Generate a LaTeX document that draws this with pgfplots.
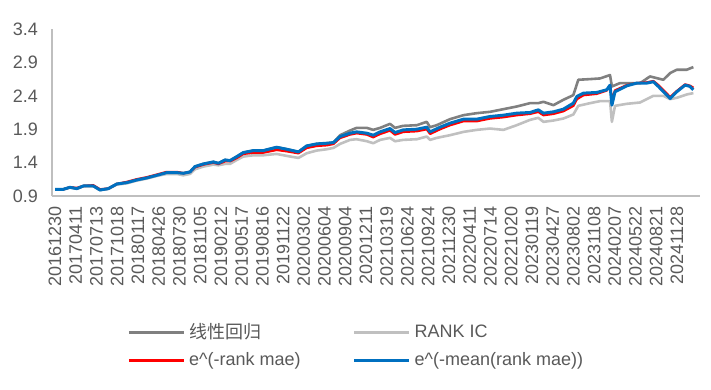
\documentclass[border=0pt]{standalone}
\usepackage{fontspec}
\setmainfont{Liberation Sans}
\newfontfamily\cjk{Noto Sans CJK SC}
\usepackage{pgfplots}
\pgfplotsset{compat=1.18}
\definecolor{txt}{HTML}{595959}
\definecolor{dgray}{HTML}{808080}
\definecolor{lgray}{HTML}{C0C0C0}
\definecolor{myred}{HTML}{FF0000}
\definecolor{myblue}{HTML}{0070C0}
\definecolor{axisgray}{HTML}{BFBFBF}
\begin{document}
\begin{tikzpicture}
\begin{axis}[
  at={(26pt,-98pt)}, anchor=south west,
  scale only axis, width=324pt, height=83.5pt,
  xmin=-0.145, xmax=31.11, ymin=0.9, ymax=3.4,
  axis x line*=bottom, axis y line*=left,
  axis line style={draw=axisgray, line width=0.6pt, -},
  major tick length=0pt,
  ytick={0.9,1.4,1.9,2.4,2.9,3.4},
  /pgf/number format/fixed,
  /pgf/number format/fixed zerofill,
  /pgf/number format/precision=1,
  /pgf/number format/assume math mode=true,
  ytick style={draw=none}, xtick style={draw=none},
  tick label style={font=\fontsize{9}{10}\selectfont, text=txt},
  yticklabel style={xshift=-3.5pt},
  xtick={0,...,30},
  xticklabels={20161230,20170411,20170713,20171018,20180117,20180426,20180730,20181105,20190212,20190517,20190816,20191122,20200302,20200604,20200904,20201211,20210319,20210624,20210924,20211230,20220411,20220714,20221020,20230119,20230427,20230802,20231108,20240207,20240522,20240821,20241128},
  xticklabel style={rotate=90, anchor=east, xshift=-1.5pt},
  legend columns=2,
  legend cell align=left,
  legend image code/.code={\draw[#1] (0pt,0pt) -- (27.5pt,0pt);},
  legend style={at={(axis description cs:0.116,-0.735)}, anchor=north west,
    draw=none, fill=none, inner sep=0pt, row sep=1.5pt,
    font=\fontsize{9}{10}\selectfont, text=txt,
    /tikz/every even column/.append style={column sep=24pt}},
  every axis plot/.append style={line join=round},
]
\addplot[dgray, line width=1.3pt] coordinates {
(0,1.00)(0.40,1.00)(0.72,1.03)(1.05,1.01)(1.37,1.05)(1.85,1.05)(2.17,0.99)(2.57,1.01)(2.98,1.08)(3.46,1.10)(3.94,1.14)(4.42,1.17)(4.91,1.21)(5.39,1.25)(5.87,1.25)(6.19,1.24)(6.51,1.26)(6.75,1.34)(7.15,1.38)(7.64,1.41)(7.88,1.39)(8.20,1.44)(8.44,1.43)(8.77,1.49)(9.08,1.55)(9.57,1.58)(10.05,1.58)(10.69,1.63)(11.18,1.60)(11.74,1.56)(12.14,1.65)(12.62,1.68)(13.11,1.69)(13.43,1.70)
(13.75,1.81)(14.23,1.88)(14.55,1.92)(15.04,1.92)(15.35,1.89)(15.68,1.92)(16.16,1.98)(16.40,1.92)(16.79,1.95)(17.45,1.96)(17.93,2.01)(18.09,1.93)(18.41,1.96)(19.05,2.05)(19.70,2.11)(20.34,2.14)(20.98,2.16)(21.63,2.20)(22.27,2.24)(22.91,2.29)(23.31,2.29)(23.56,2.31)(24.04,2.26)(24.52,2.34)(25.00,2.41)(25.24,2.64)(25.81,2.65)(26.29,2.66)(26.77,2.71)(26.86,2.54)(27.25,2.59)(27.73,2.59)(28.22,2.59)(28.70,2.69)(29.34,2.64)(29.67,2.74)(29.99,2.79)(30.47,2.79)(30.79,2.83)
};
\addlegendentry{{\cjk 线性回归}}
\addplot[lgray, line width=1.3pt] coordinates {
(0,1.00)(0.40,1.00)(0.72,1.03)(1.05,1.01)(1.37,1.05)(1.85,1.05)(2.17,0.99)(2.57,1.01)(2.98,1.07)(3.46,1.09)(3.94,1.13)(4.42,1.16)(4.91,1.20)(5.39,1.23)(5.87,1.23)(6.19,1.21)(6.51,1.23)(6.75,1.30)(7.15,1.34)(7.64,1.37)(7.88,1.36)(8.20,1.38)(8.44,1.38)(8.77,1.44)(9.08,1.49)(9.57,1.51)(10.05,1.51)(10.69,1.53)(11.18,1.50)(11.74,1.47)(12.14,1.54)(12.62,1.58)(13.11,1.60)(13.43,1.62)(13.75,1.68)(14.23,1.74)(14.55,1.75)(15.04,1.72)(15.35,1.69)(15.68,1.74)(16.16,1.77)(16.40,1.72)(16.79,1.74)(17.45,1.75)(17.93,1.79)(18.09,1.74)(18.41,1.77)(19.05,1.81)(19.70,1.86)(20.34,1.89)(20.98,1.91)(21.63,1.89)(22.27,1.96)(22.91,2.04)(23.31,2.07)(23.56,2.01)(24.04,2.03)(24.52,2.06)(25.00,2.12)(25.24,2.25)(25.81,2.29)(26.29,2.32)(26.77,2.32)(26.86,2.01)(27.01,2.25)(27.58,2.28)(28.22,2.30)(28.86,2.40)(29.34,2.40)(29.67,2.35)(29.99,2.37)(30.47,2.42)(30.79,2.44)
};
\addlegendentry{RANK IC}
\addplot[myred, line width=1.2pt] coordinates {
(0,1.00)(0.40,1.00)(0.72,1.03)(1.05,1.02)(1.37,1.05)(1.85,1.06)(2.17,1.00)(2.57,1.01)(2.98,1.08)(3.46,1.11)(3.94,1.15)(4.42,1.18)(4.91,1.22)(5.39,1.26)(5.87,1.26)(6.19,1.24)(6.51,1.26)(6.75,1.33)(7.15,1.37)(7.64,1.40)(7.88,1.38)(8.20,1.42)(8.44,1.42)(8.77,1.47)(9.08,1.53)(9.57,1.55)(10.05,1.55)(10.69,1.59)(11.18,1.57)(11.74,1.54)(12.14,1.62)(12.62,1.65)(13.11,1.66)(13.43,1.68)(13.75,1.77)(14.23,1.82)(14.55,1.84)(15.04,1.82)(15.35,1.78)(15.68,1.83)(16.16,1.88)(16.40,1.82)(16.80,1.86)(17.45,1.87)(17.93,1.90)(18.09,1.83)(18.57,1.90)(19.05,1.96)(19.70,2.02)(20.34,2.02)(20.98,2.06)(21.63,2.08)(22.27,2.11)(22.91,2.13)(23.31,2.16)(23.56,2.11)(24.04,2.13)(24.52,2.17)(25.00,2.25)(25.17,2.35)(25.49,2.41)(26.13,2.43)(26.61,2.48)(26.77,2.55)(26.86,2.33)(27.01,2.48)(27.58,2.56)(28.06,2.59)(28.54,2.60)(28.86,2.62)(29.10,2.56)(29.67,2.38)(29.99,2.47)(30.39,2.57)(30.63,2.55)(30.79,2.52)
};
\addlegendentry{e\^{}(-rank mae)}
\addplot[myblue, line width=1.5pt] coordinates {
(0,1.00)(0.40,1.00)(0.72,1.03)(1.05,1.01)(1.37,1.05)(1.85,1.05)(2.17,0.99)(2.57,1.01)(2.98,1.08)(3.46,1.10)(3.94,1.14)(4.42,1.17)(4.91,1.21)(5.39,1.25)(5.87,1.25)(6.19,1.24)(6.51,1.26)(6.75,1.34)(7.15,1.38)(7.64,1.41)(7.88,1.39)(8.20,1.44)(8.44,1.43)(8.77,1.49)(9.08,1.55)(9.57,1.58)(10.05,1.58)(10.69,1.63)(11.18,1.60)(11.74,1.56)(12.14,1.65)(12.62,1.68)(13.11,1.69)(13.43,1.70)(13.75,1.79)(14.23,1.84)(14.55,1.86)(15.04,1.84)(15.35,1.81)(15.68,1.86)(16.16,1.91)(16.40,1.85)(16.80,1.89)(17.45,1.90)(17.93,1.93)(18.09,1.86)(18.57,1.93)(19.05,1.99)(19.70,2.05)(20.34,2.05)(20.98,2.09)(21.63,2.11)(22.27,2.14)(22.91,2.15)(23.31,2.19)(23.56,2.14)(24.04,2.16)(24.52,2.20)(25.00,2.29)(25.17,2.39)(25.49,2.44)(26.13,2.45)(26.61,2.49)(26.77,2.56)(26.86,2.26)(27.01,2.46)(27.58,2.55)(28.06,2.59)(28.54,2.59)(28.86,2.61)(29.10,2.54)(29.67,2.36)(29.99,2.46)(30.39,2.56)(30.63,2.54)(30.79,2.49)
};
\addlegendentry{e\^{}(-mean(rank mae))}
\end{axis}
\pgfresetboundingbox
\path[use as bounding box] (0,0) rectangle (355.5pt,-195pt);
\end{tikzpicture}
\end{document}
